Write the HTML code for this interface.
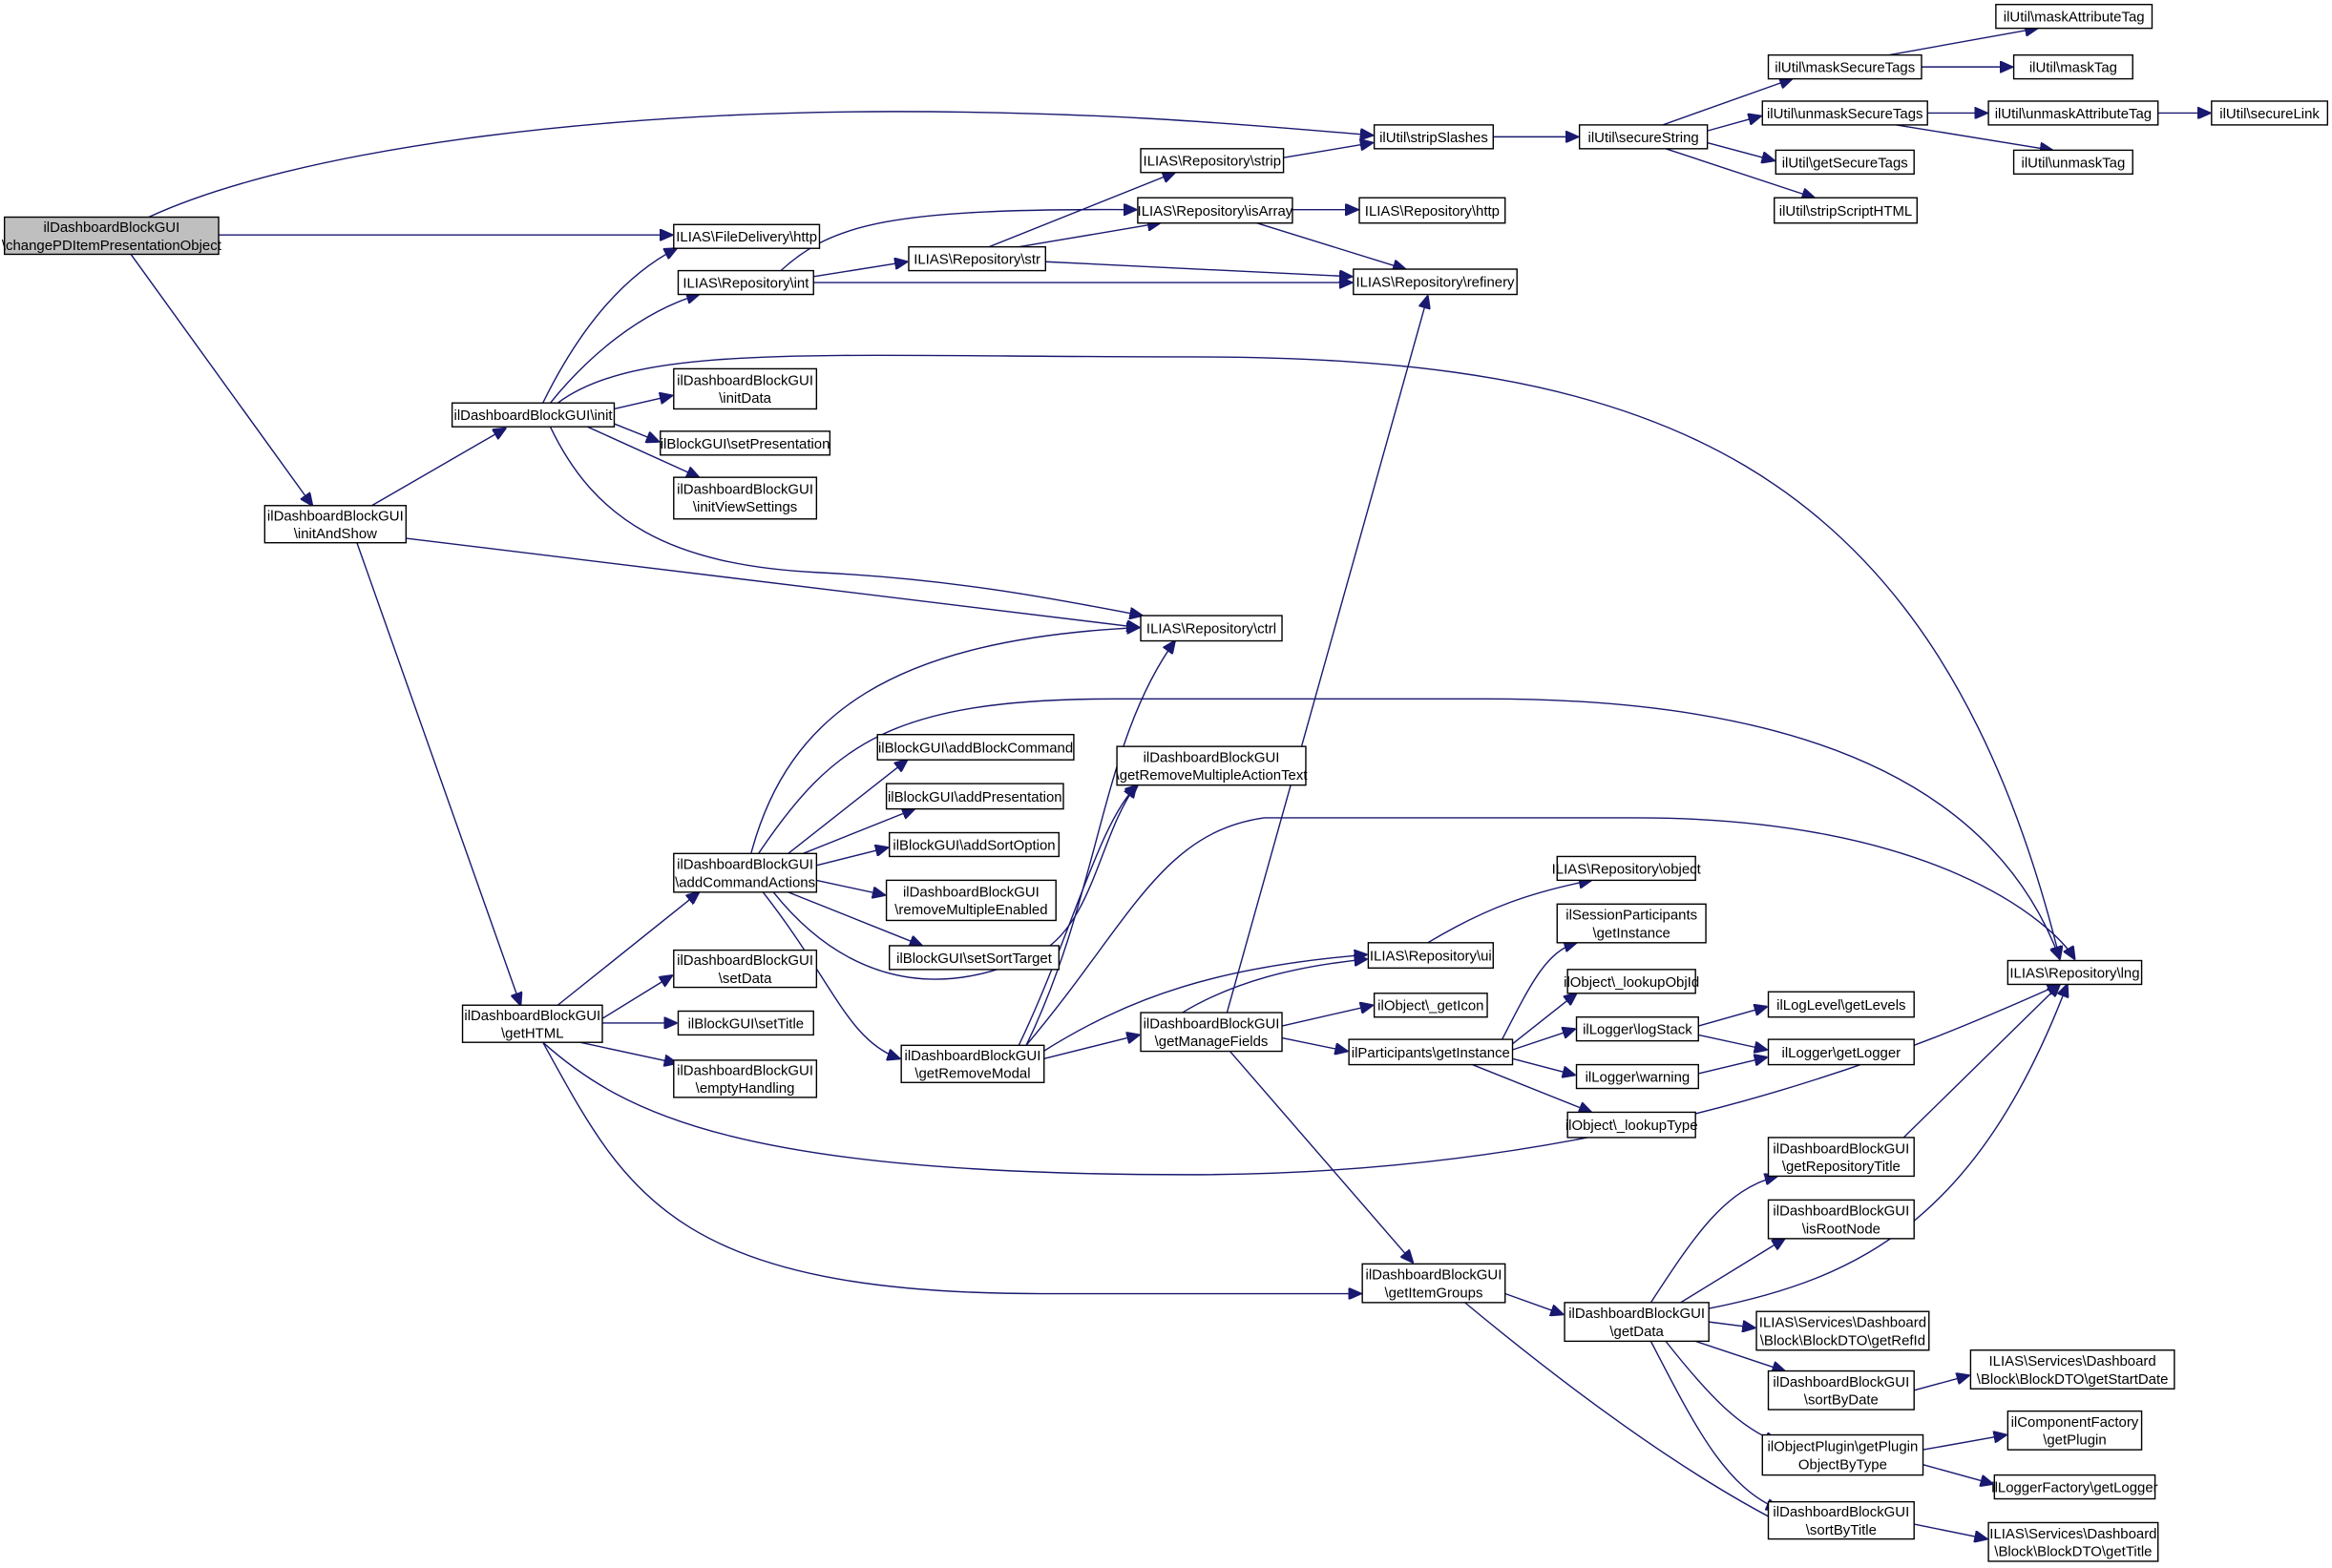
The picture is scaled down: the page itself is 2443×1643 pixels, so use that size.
<!DOCTYPE html>
<html><head><meta charset="utf-8"><style>
html,body{margin:0;padding:0;background:#fff;}
svg{display:block;}
text{font-family:"Liberation Sans Narrow","Liberation Sans",sans-serif;font-size:9.6px;fill:#000;text-anchor:middle;}
rect{fill:#fff;stroke:#000;stroke-width:0.9;}
path{fill:none;stroke:#191970;stroke-width:0.9;}
</style></head><body>
<svg width="2443" height="1643" viewBox="0 0 1568 1054.5" xmlns="http://www.w3.org/2000/svg">
<defs><marker id="a" markerWidth="9" markerHeight="8" refX="8.5" refY="4" orient="auto" markerUnits="userSpaceOnUse"><path d="M0,0 L9,4 L0,8 Z" style="fill:#191970;stroke:#191970"/></marker></defs>
<g marker-end="url(#a)">
<path d="M100,146 C200,100 400,75 600,75 C750,75 850,85 923,91"/>
<path d="M147,158 L452,158"/>
<path d="M88,171 L210,340"/>
<path d="M250,340 L340,288"/>
<path d="M273,362 L766,422"/>
<path d="M240,365 L350,676"/>
<path d="M365,271 C390,220 420,185 455,167"/>
<path d="M370,271 C395,240 430,210 470,198"/>
<path d="M375,271 C430,230 550,240 800,240 C1100,240 1300,300 1385,645"/>
<path d="M413,275 L452,266"/>
<path d="M413,285 L443,297"/>
<path d="M395,287 L470,321"/>
<path d="M370,287 C400,350 450,380 550,385 C650,390 720,405 768,414"/>
<path d="M547,186 L610,176"/>
<path d="M525,182 C560,150 600,140 764,141"/>
<path d="M547,190 L909,190"/>
<path d="M665,166 L790,116"/>
<path d="M685,166 L780,150"/>
<path d="M703,176 L909,186"/>
<path d="M863,106 L923,96"/>
<path d="M869,141 L913,141"/>
<path d="M845,150 L945,181"/>
<path d="M1004,92 L1061,92"/>
<path d="M1118,84 L1205,53"/>
<path d="M1148,88 L1184,78"/>
<path d="M1148,96 L1193,108"/>
<path d="M1120,100 L1220,133"/>
<path d="M1270,37 L1370,19"/>
<path d="M1292,45 L1353,45"/>
<path d="M1296,76 L1336,76"/>
<path d="M1275,84 L1380,101"/>
<path d="M1451,76 L1486,76"/>
<path d="M505,574 C530,480 600,430 766,422"/>
<path d="M510,574 C560,500 600,470 750,470 L1000,470 C1250,470 1350,550 1385,645"/>
<path d="M530,574 L610,511"/>
<path d="M540,574 L615,544"/>
<path d="M549,582 L597,570"/>
<path d="M549,592 L595,602"/>
<path d="M530,600 L620,636"/>
<path d="M520,600 C560,650 620,680 700,640 C735,620 740,560 764,528"/>
<path d="M513,600 C560,660 570,700 605,712"/>
<path d="M375,676 L470,600"/>
<path d="M405,685 L452,656"/>
<path d="M405,688 L455,688"/>
<path d="M390,701 L455,715"/>
<path d="M365,701 C420,750 500,790 800,790 C1100,790 1300,700 1385,662"/>
<path d="M365,701 C420,800 450,870 700,870 L915,870"/>
<path d="M690,703 C740,600 740,500 790,431"/>
<path d="M685,703 C720,630 740,550 765,528"/>
<path d="M690,703 C760,620 780,560 850,550 L1100,550 C1300,550 1380,620 1395,645"/>
<path d="M702,712 L766,696"/>
<path d="M700,708 C760,670 820,650 919,642"/>
<path d="M795,681 C830,660 870,650 919,645"/>
<path d="M825,681 L960,199"/>
<path d="M862,690 L923,676"/>
<path d="M862,698 L906,707"/>
<path d="M827,707 L950,849"/>
<path d="M960,634 C1000,610 1030,600 1070,592"/>
<path d="M1010,699 C1030,660 1040,640 1060,634"/>
<path d="M1017,702 L1060,668"/>
<path d="M1017,706 L1059,692"/>
<path d="M1017,712 L1059,723"/>
<path d="M990,716 L1070,748"/>
<path d="M1142,690 L1188,677"/>
<path d="M1142,696 L1188,706"/>
<path d="M1142,722 L1188,711"/>
<path d="M1012,870 L1051,884"/>
<path d="M985,876 C1050,930 1130,990 1199,1025"/>
<path d="M1110,876 C1140,830 1160,800 1195,791"/>
<path d="M1130,876 L1200,833"/>
<path d="M1149,880 C1250,860 1330,820 1390,662"/>
<path d="M1149,889 L1180,893"/>
<path d="M1140,902 L1200,922"/>
<path d="M1120,902 C1150,940 1170,960 1195,970"/>
<path d="M1110,902 C1140,960 1160,1000 1196,1015"/>
<path d="M1280,765 L1385,662"/>
<path d="M1287,935 L1324,925"/>
<path d="M1293,975 L1349,965"/>
<path d="M1293,985 L1340,998"/>
<path d="M1287,1025 L1336,1035"/>
</g>
<g>
<rect x="3" y="146" width="144" height="25" style="fill:#bfbfbf"/><text x="75" y="156">ilDashboardBlockGUI</text><text x="75" y="168">\changePDItemPresentationObject</text>
<rect x="453" y="151" width="98" height="16"/><text x="502" y="162.5">ILIAS\FileDelivery\http</text>
<rect x="456" y="182" width="91" height="16"/><text x="501.5" y="193.5">ILIAS\Repository\int</text>
<rect x="304" y="271" width="109" height="16"/><text x="358.5" y="282.5">ilDashboardBlockGUI\init</text>
<rect x="453" y="248" width="96" height="27"/><text x="501" y="259">ilDashboardBlockGUI</text><text x="501" y="271">\initData</text>
<rect x="444" y="290" width="114" height="16"/><text x="501" y="301.5">ilBlockGUI\setPresentation</text>
<rect x="453" y="321" width="96" height="28"/><text x="501" y="332">ilDashboardBlockGUI</text><text x="501" y="344">\initViewSettings</text>
<rect x="178" y="340" width="95" height="25"/><text x="225.5" y="350">ilDashboardBlockGUI</text><text x="225.5" y="362">\initAndShow</text>
<rect x="924" y="84" width="80" height="16"/><text x="964" y="95.5">ilUtil\stripSlashes</text>
<rect x="767" y="100" width="96" height="16"/><text x="815" y="111.5">ILIAS\Repository\strip</text>
<rect x="765" y="133" width="104" height="17"/><text x="817" y="145">ILIAS\Repository\isArray</text>
<rect x="611" y="166" width="92" height="16"/><text x="657" y="177.5">ILIAS\Repository\str</text>
<rect x="914" y="133" width="98" height="17"/><text x="963" y="145">ILIAS\Repository\http</text>
<rect x="910" y="181" width="110" height="17"/><text x="965" y="193">ILIAS\Repository\refinery</text>
<rect x="1062" y="84" width="86" height="16"/><text x="1105" y="95.5">ilUtil\secureString</text>
<rect x="1189" y="37" width="103" height="16"/><text x="1240.5" y="48.5">ilUtil\maskSecureTags</text>
<rect x="1185" y="68" width="111" height="16"/><text x="1240.5" y="79.5">ilUtil\unmaskSecureTags</text>
<rect x="1194" y="101" width="93" height="16"/><text x="1240.5" y="112.5">ilUtil\getSecureTags</text>
<rect x="1193" y="133" width="96" height="17"/><text x="1241" y="145">ilUtil\stripScriptHTML</text>
<rect x="1342" y="3" width="105" height="16"/><text x="1394.5" y="14.5">ilUtil\maskAttributeTag</text>
<rect x="1354" y="37" width="80" height="16"/><text x="1394" y="48.5">ilUtil\maskTag</text>
<rect x="1337" y="68" width="114" height="16"/><text x="1394" y="79.5">ilUtil\unmaskAttributeTag</text>
<rect x="1354" y="101" width="80" height="16"/><text x="1394" y="112.5">ilUtil\unmaskTag</text>
<rect x="1487" y="68" width="78" height="16"/><text x="1526" y="79.5">ilUtil\secureLink</text>
<rect x="1350" y="646" width="90" height="16"/><text x="1395" y="657.5">ILIAS\Repository\lng</text>
<rect x="767" y="414" width="95" height="17"/><text x="814.5" y="426">ILIAS\Repository\ctrl</text>
<rect x="751" y="502" width="127" height="26"/><text x="814.5" y="512.5">ilDashboardBlockGUI</text><text x="814.5" y="524.5">\getRemoveMultipleActionText</text>
<rect x="590" y="494" width="132" height="17"/><text x="656" y="506">ilBlockGUI\addBlockCommand</text>
<rect x="596" y="527" width="119" height="17"/><text x="655.5" y="539">ilBlockGUI\addPresentation</text>
<rect x="598" y="560" width="114" height="16"/><text x="655" y="571.5">ilBlockGUI\addSortOption</text>
<rect x="596" y="592" width="114" height="27"/><text x="653" y="603">ilDashboardBlockGUI</text><text x="653" y="615">\removeMultipleEnabled</text>
<rect x="598" y="636" width="114" height="16"/><text x="655" y="647.5">ilBlockGUI\setSortTarget</text>
<rect x="453" y="574" width="96" height="26"/><text x="501" y="584.5">ilDashboardBlockGUI</text><text x="501" y="596.5">\addCommandActions</text>
<rect x="453" y="639" width="96" height="25"/><text x="501" y="649">ilDashboardBlockGUI</text><text x="501" y="661">\setData</text>
<rect x="456" y="680" width="91" height="16"/><text x="501.5" y="691.5">ilBlockGUI\setTitle</text>
<rect x="453" y="713" width="96" height="25"/><text x="501" y="723">ilDashboardBlockGUI</text><text x="501" y="735">\emptyHandling</text>
<rect x="311" y="676" width="94" height="25"/><text x="358" y="686">ilDashboardBlockGUI</text><text x="358" y="698">\getHTML</text>
<rect x="606" y="703" width="96" height="25"/><text x="654" y="713">ilDashboardBlockGUI</text><text x="654" y="725">\getRemoveModal</text>
<rect x="767" y="681" width="95" height="26"/><text x="814.5" y="691.5">ilDashboardBlockGUI</text><text x="814.5" y="703.5">\getManageFields</text>
<rect x="920" y="634" width="84" height="17"/><text x="962" y="646">ILIAS\Repository\ui</text>
<rect x="1047" y="576" width="93" height="16"/><text x="1093.5" y="587.5">ILIAS\Repository\object</text>
<rect x="1047" y="608" width="100" height="26"/><text x="1097" y="618.5">ilSessionParticipants</text><text x="1097" y="630.5">\getInstance</text>
<rect x="1054" y="652" width="86" height="16"/><text x="1097" y="663.5">ilObject\_lookupObjId</text>
<rect x="924" y="668" width="76" height="16"/><text x="962" y="679.5">ilObject\_getIcon</text>
<rect x="907" y="699" width="110" height="17"/><text x="962" y="711">ilParticipants\getInstance</text>
<rect x="1060" y="684" width="82" height="16"/><text x="1101" y="695.5">ilLogger\logStack</text>
<rect x="1060" y="716" width="82" height="16"/><text x="1101" y="727.5">ilLogger\warning</text>
<rect x="1054" y="748" width="86" height="17"/><text x="1097" y="760">ilObject\_lookupType</text>
<rect x="1189" y="667" width="98" height="17"/><text x="1238" y="679">ilLogLevel\getLevels</text>
<rect x="1189" y="699" width="98" height="17"/><text x="1238" y="711">ilLogger\getLogger</text>
<rect x="1189" y="765" width="98" height="26"/><text x="1238" y="775.5">ilDashboardBlockGUI</text><text x="1238" y="787.5">\getRepositoryTitle</text>
<rect x="1189" y="807" width="98" height="26"/><text x="1238" y="817.5">ilDashboardBlockGUI</text><text x="1238" y="829.5">\isRootNode</text>
<rect x="916" y="850" width="96" height="26"/><text x="964" y="860.5">ilDashboardBlockGUI</text><text x="964" y="872.5">\getItemGroups</text>
<rect x="1052" y="876" width="97" height="26"/><text x="1100.5" y="886.5">ilDashboardBlockGUI</text><text x="1100.5" y="898.5">\getData</text>
<rect x="1181" y="882" width="116" height="26"/><text x="1239" y="892.5">ILIAS\Services\Dashboard</text><text x="1239" y="904.5">\Block\BlockDTO\getRefId</text>
<rect x="1189" y="922" width="98" height="26"/><text x="1238" y="932.5">ilDashboardBlockGUI</text><text x="1238" y="944.5">\sortByDate</text>
<rect x="1325" y="908" width="137" height="26"/><text x="1393.5" y="918.5">ILIAS\Services\Dashboard</text><text x="1393.5" y="930.5">\Block\BlockDTO\getStartDate</text>
<rect x="1185" y="965" width="108" height="27"/><text x="1239" y="976">ilObjectPlugin\getPlugin</text><text x="1239" y="988">ObjectByType</text>
<rect x="1350" y="949" width="90" height="26"/><text x="1395" y="959.5">ilComponentFactory</text><text x="1395" y="971.5">\getPlugin</text>
<rect x="1341" y="992" width="108" height="16"/><text x="1395" y="1003.5">ilLoggerFactory\getLogger</text>
<rect x="1189" y="1010" width="98" height="25"/><text x="1238" y="1020">ilDashboardBlockGUI</text><text x="1238" y="1032">\sortByTitle</text>
<rect x="1337" y="1024" width="114" height="26"/><text x="1394" y="1034.5">ILIAS\Services\Dashboard</text><text x="1394" y="1046.5">\Block\BlockDTO\getTitle</text>
</g>
</svg>
</body></html>
